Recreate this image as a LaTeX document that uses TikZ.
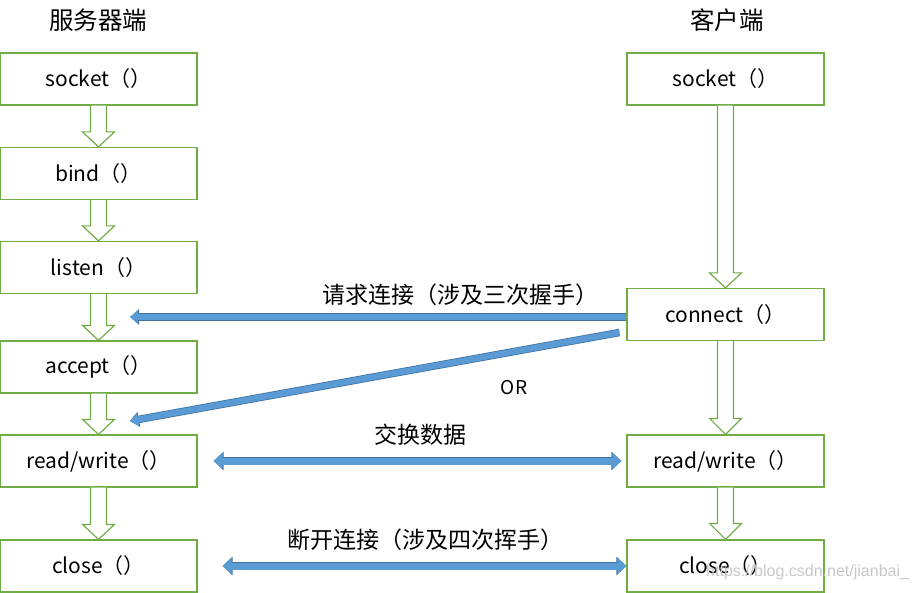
\documentclass[tikz,border=0pt]{standalone}
\usepackage{fontspec}
\setmainfont{Noto Sans CJK SC}
\newfontfamily\wmfont{Liberation Sans}
\usetikzlibrary{arrows.meta,calc}
\definecolor{boxgreen}{HTML}{70AD47}
\definecolor{lightblue}{HTML}{5B9BD5}
\definecolor{darkblue}{HTML}{41719C}
\tikzset{
  fnbox/.style={draw=boxgreen, line width=1.2pt, minimum width=197pt, minimum height=52pt, inner sep=0pt, font=\fontsize{21}{25}\selectfont},
  blk/.style={draw=boxgreen, line width=1.2pt, fill=white, line join=miter},
  hdr/.style={font=\fontsize{24.5}{28}\selectfont},
  lbl/.style={font=\fontsize{23}{27}\selectfont},
  bluesingle/.style={line width=6pt, lightblue, -{Triangle[length=8pt,width=13pt]},
    preaction={draw=darkblue, line width=7.5pt, -{Triangle[length=9pt,width=15pt]}}},
  bluedouble/.style={line width=7pt, lightblue, {Triangle[length=9pt,width=16pt]}-{Triangle[length=9pt,width=16pt]},
    preaction={draw=darkblue, line width=8.5pt, {Triangle[length=10pt,width=18pt]}-{Triangle[length=10pt,width=18pt]}}},
}
\newcommand\blkarrow[3]{%
  \draw[blk] ($(#1.south)+(-8,0)$) -- ($(#2.north)+(-8,-#3)$) -- ($(#2.north)+(-16,-#3)$) -- (#2.north)
    -- ($(#2.north)+(16,-#3)$) -- ($(#2.north)+(8,-#3)$) -- ($(#1.south)+(8,0)$);}
\begin{document}
\begin{tikzpicture}[x=1pt,y=-1pt]
\useasboundingbox (0,0) rectangle (917,593);
% headers
\node[hdr] (hs) at (98,20) {服务器端};
\node[hdr] (hc) at (727,20) {客户端};
% server boxes
\node[fnbox] (L1) at (98.5,79) {socket（）};
\node[fnbox] (L2) at (98.5,173.5) {bind（）};
\node[fnbox] (L3) at (98.5,267.5) {listen（）};
\node[fnbox] (L4) at (98.5,367) {accept（）};
\node[fnbox] (L5) at (98.5,461) {read/write（）};
\node[fnbox] (L6) at (98.5,566) {close（）};
% client boxes
\node[fnbox] (R1) at (725.5,79) {socket（）};
\node[fnbox] (R2) at (725.5,314.5) {connect（）};
\node[fnbox] (R3) at (725.5,461) {read/write（）};
\node[fnbox] (R4) at (725.5,566) {close（）};
% block arrows
\blkarrow{L1}{L2}{15}
\blkarrow{L2}{L3}{15}
\blkarrow{L3}{L4}{15}
\blkarrow{L4}{L5}{15}
\blkarrow{L5}{L6}{15}
\blkarrow{R1}{R2}{15}
\blkarrow{R2}{R3}{16}
\blkarrow{R3}{R4}{16}
% blue connectors
\coordinate (reqend) at (130,317);
\coordinate (orend) at (130,421);
\draw[bluesingle] ([yshift=-2.5pt]R2.west) -- (reqend);
\draw[bluesingle] ([xshift=-7pt,yshift=-18pt]R2.west) -- (orend);
\draw[bluedouble] ([xshift=16pt]L5.east) -- ([xshift=-5pt]R3.west);
\draw[bluedouble] ([xshift=25pt]L6.east) -- (R4.west);
% labels
\node[lbl] (t1) at (460,295) {请求连接（涉及三次握手）};
\node[font=\fontsize{19}{23}\selectfont] (t2) at (514,388) {OR};
\node[lbl] (t3) at (420,435) {交换数据};
\node[lbl] (t4) at (425,540) {断开连接（涉及四次挥手）};
% watermark
\node[anchor=base west, inner sep=0pt, text=black!22, font=\wmfont\fontsize{16}{18}\selectfont] (wm) at (706,576) {https://blog.csdn.net/jianbai\_};
\end{tikzpicture}
\end{document}
